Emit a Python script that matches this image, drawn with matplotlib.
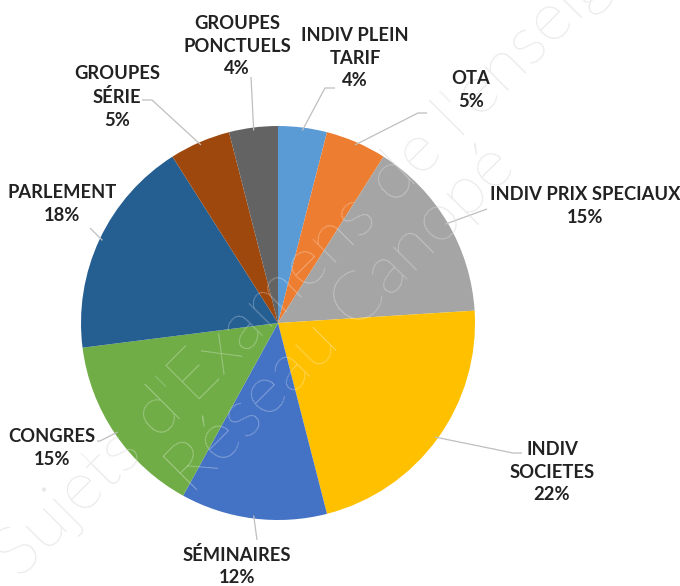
import numpy as np
import matplotlib
matplotlib.use("Agg")
import matplotlib.pyplot as plt

labels = ["INDIV PLEIN\nTARIF", "OTA", "INDIV PRIX SPECIAUX", "INDIV\nSOCIETES",
          "SÉMINAIRES", "CONGRES", "PARLEMENT", "GROUPES\nSÉRIE", "GROUPES\nPONCTUELS"]
values = [4, 5, 15, 22, 12, 15, 18, 5, 4]
colors = ["#5B9BD5", "#ED7D31", "#A5A5A5", "#FFC000", "#4472C4",
          "#70AD47", "#255E91", "#9E480E", "#636363"]
watermark = ["Sujets d'Examens de l'enseignement", "Réseau Canopé"]

W, H = 680, 586
fig = plt.figure(figsize=(W / 100, H / 100), dpi=100)
ax = fig.add_axes([0, 0, 1, 1])

cx, cy, r = 278, H - 323, 197

wedges, _ = ax.pie(values, colors=colors, startangle=90, counterclock=False,
                   center=(cx, cy), radius=r, frame=True,
                   wedgeprops=dict(linewidth=0, zorder=2))
ax.set_xlim(0, W)
ax.set_ylim(0, H)
ax.set_aspect("equal")
ax.axis("off")

# watermark: grey under the pie, translucent white over it
wm_pos = [(20, 580), (192, 496)]
for txt, (px, py) in zip(watermark, wm_pos):
    common = dict(fontsize=50, rotation=45, rotation_mode="anchor",
                  family="Lato", fontweight="light", ha="left", va="baseline",
                  clip_on=True)
    ax.text(px, H - py, txt, color="#d9d9d9", zorder=1, **common)
    ax.text(px, H - py, txt, color="white", alpha=0.4, zorder=4, **common)

# label text positions (pixel coords, y from top) and leader line elbows
label_pos = [(355, 58), (471, 90), (585, 206), (552, 472), (237, 566),
             (52, 448), (62, 204), (117, 97), (237, 46)]
elbows = [[(325, 88), (335, 88)],
          [(418, 113), (427, 113)],
          [(487, 209)],
          [(513, 453), (522, 453)],
          [(257, 540)],
          [(100, 441), (97, 441)],
          [(90, 228)],
          [(152, 100), (142, 100)],
          [(251, 77)]]

total = sum(values)
cum = 0
for lab, v, pos, elb in zip(labels, values, label_pos, elbows):
    mid = 90 - (cum + v / 2) / total * 360
    cum += v
    a = np.deg2rad(mid)
    sx, sy = cx + 0.985 * r * np.cos(a), cy + 0.985 * r * np.sin(a)
    xs = [sx] + [p[0] for p in elb]
    ys = [sy] + [H - p[1] for p in elb]
    ax.plot(xs, ys, color="#bfbfbf", lw=0.9, zorder=3, solid_capstyle="butt")
    ax.text(pos[0], H - pos[1], f"{lab}\n{v}%", ha="center", va="center",
            fontsize=13.2, fontweight="bold", family="Lato", color="#222222",
            linespacing=1.4, zorder=6)

fig.savefig("out.png", dpi=100)
